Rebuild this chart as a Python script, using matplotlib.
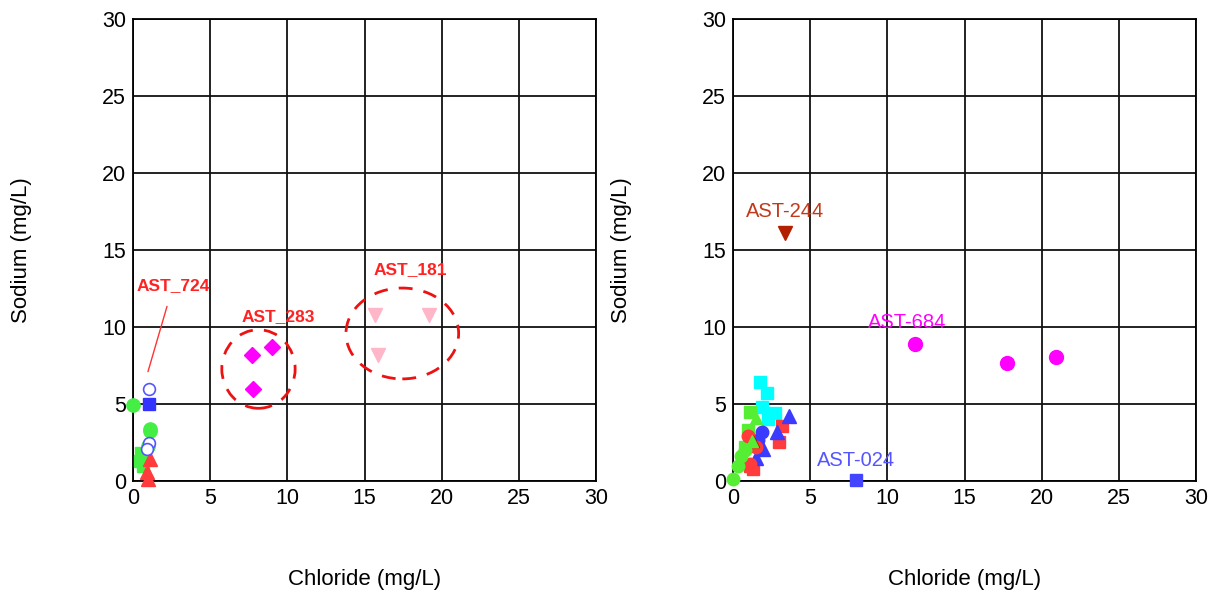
import matplotlib
matplotlib.use('Agg')
import matplotlib.pyplot as plt
from matplotlib.patches import Ellipse

plt.rcParams['font.family'] = ['Liberation Sans', 'DejaVu Sans']

# ---- left panel data (Chloride, Sodium) ----
l_green_circ_x = [0.0, 1.1, 1.1, 1.0]
l_green_circ_y = [4.95, 3.4, 3.25, 2.3]
l_blue_sq_x = [1.05]
l_blue_sq_y = [5.0]
l_blue_open_x = [1.05, 1.05, 0.9]
l_blue_open_y = [6.0, 2.5, 2.1]
l_green_sq_x = [0.5, 0.45, 0.65]
l_green_sq_y = [1.8, 1.3, 1.0]
l_red_tri_x = [1.1, 0.9, 1.0]
l_red_tri_y = [1.4, 0.6, 0.1]
l_mag_dia_x = [7.7, 9.0, 7.8]
l_mag_dia_y = [8.2, 8.7, 6.0]
l_pink_x = [15.7, 19.2, 15.9]
l_pink_y = [10.8, 10.8, 8.2]

# ---- right panel data ----
r_cyan_sq_x = [1.75, 2.2, 1.85, 2.7, 2.3]
r_cyan_sq_y = [6.45, 5.7, 4.8, 4.4, 4.0]
r_blue_tri_x = [3.6, 2.85, 1.95, 1.5]
r_blue_tri_y = [4.2, 3.2, 2.1, 1.5]
r_red_sq_x = [3.15, 2.95, 1.1, 1.3]
r_red_sq_y = [3.6, 2.55, 0.95, 0.8]
r_green_sq_x = [1.1, 1.0, 0.8]
r_green_sq_y = [4.5, 3.3, 2.2]
r_green_circ_x = [0.0, 0.35, 0.55, 0.8]
r_green_circ_y = [0.15, 0.95, 1.6, 2.0]
r_green_tri_x = [1.5, 1.2]
r_green_tri_y = [4.1, 2.6]
r_blue_circ_x = [1.85, 1.65]
r_blue_circ_y = [3.2, 2.65]
r_red_circ_x = [1.0, 1.1, 1.5]
r_red_circ_y = [2.9, 1.1, 2.2]
r_dkred_x = [1.3]
r_dkred_y = [2.6]
r_ast244_x = [3.4]
r_ast244_y = [16.1]
r_mag_circ_x = [11.8, 17.75, 20.9]
r_mag_circ_y = [8.9, 7.65, 8.05]
r_ast024_x = [8.0]
r_ast024_y = [0.05]

ticks = [0, 5, 10, 15, 20, 25, 30]

fig = plt.figure(figsize=(12.16, 5.92), dpi=100)
ax1 = fig.add_axes([133 / 1216, 111 / 592, 463 / 1216, 462 / 592])
ax2 = fig.add_axes([733 / 1216, 111 / 592, 463 / 1216, 462 / 592])

for ax in (ax1, ax2):
    ax.set_xlim(0, 30)
    ax.set_ylim(0, 30)
    ax.set_xticks(ticks)
    ax.set_yticks(ticks)
    ax.grid(True, color='#111111', linewidth=1.3)
    ax.set_axisbelow(True)
    ax.tick_params(length=0, labelsize=15.5, pad=5)
    for s in ax.spines.values():
        s.set_linewidth(1.3)
        s.set_color('black')
    ax.set_xlabel('Chloride (mg/L)', fontsize=16, labelpad=43)
    ax.set_ylabel('Sodium (mg/L)', fontsize=16, labelpad=50)


def pts(ax, x, y, **kw):
    ax.plot(x, y, linestyle='none', clip_on=False, zorder=3, **kw)


# left panel
pts(ax1, l_green_sq_x, l_green_sq_y, marker='s', ms=8, color='#44ee44')
pts(ax1, l_red_tri_x, l_red_tri_y, marker='^', ms=10, color='#ff3b3b')
pts(ax1, l_green_circ_x, l_green_circ_y, marker='o', ms=9.5, color='#44ee44')
pts(ax1, l_blue_sq_x, l_blue_sq_y, marker='s', ms=8.5, color='#3333ff')
pts(ax1, l_blue_open_x, l_blue_open_y, marker='o', ms=8.5, mfc='white',
    mec='#5555ff', mew=1.2)
pts(ax1, l_mag_dia_x, l_mag_dia_y, marker='D', ms=8, color='#ff00ff')
pts(ax1, l_pink_x, l_pink_y, marker='v', ms=10, color='#ffb6c8')

ax1.add_patch(Ellipse((8.13, 7.27), 4.75, 5.1, fill=False, edgecolor='#ee1111',
                      linewidth=2, linestyle=(0, (5, 4)), zorder=4))
ax1.add_patch(Ellipse((17.45, 9.58), 7.3, 5.9, fill=False, edgecolor='#ee1111',
                      linewidth=2, linestyle=(0, (5, 4)), zorder=4))

lab = dict(color='#ff2222', fontsize=12.5, fontweight='bold', ha='center', va='center')
ax1.annotate('AST_724', xy=(0.97, 7.1), xytext=(2.6, 12.7),
             arrowprops=dict(arrowstyle='-', color='#ff3333', lw=1,
                             shrinkA=8, shrinkB=0), **lab)
ax1.text(9.4, 10.7, 'AST_283', **lab)
ax1.text(18.0, 13.7, 'AST_181', **lab)

# right panel
pts(ax2, r_cyan_sq_x, r_cyan_sq_y, marker='s', ms=9, color='#00ffff')
pts(ax2, r_green_sq_x, r_green_sq_y, marker='s', ms=9, color='#55ee33')
pts(ax2, r_red_sq_x, r_red_sq_y, marker='s', ms=8, color='#ff3b3b')
pts(ax2, r_blue_tri_x, r_blue_tri_y, marker='^', ms=10, color='#3b3bff')
pts(ax2, r_blue_circ_x, r_blue_circ_y, marker='o', ms=9, color='#3b3bff')
pts(ax2, r_red_circ_x, r_red_circ_y, marker='o', ms=9, color='#ff3b3b')
pts(ax2, r_dkred_x, r_dkred_y, marker='^', ms=9, color='#b22000')
pts(ax2, r_green_tri_x, r_green_tri_y, marker='^', ms=9, color='#55ee33')
pts(ax2, r_green_circ_x, r_green_circ_y, marker='o', ms=9, color='#55ee33')
pts(ax2, r_ast244_x, r_ast244_y, marker='v', ms=10, color='#b22000')
pts(ax2, r_mag_circ_x, r_mag_circ_y, marker='o', ms=10, color='#ff00ff')
pts(ax2, r_ast024_x, r_ast024_y, marker='s', ms=8, color='#4444ff')

ax2.text(3.4, 17.5, 'AST-244', color='#c0391b', fontsize=14.5, ha='center', va='center')
ax2.text(11.3, 10.3, 'AST-684', color='#ff00ff', fontsize=14.5, ha='center', va='center')
ax2.text(8.0, 1.35, 'AST-024', color='#5555ff', fontsize=14.5, ha='center', va='center')

fig.savefig('out.png', dpi=100)
